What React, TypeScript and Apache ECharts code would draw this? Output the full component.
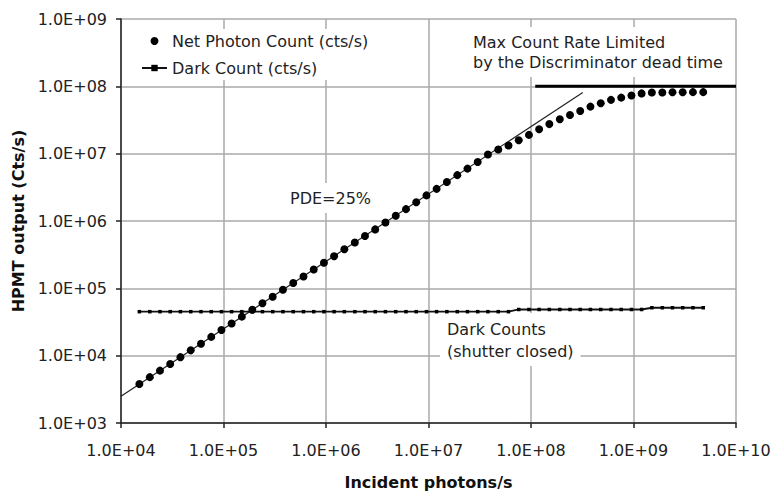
import React, { useEffect, useRef } from "react";
import * as echarts from "echarts";

// Incident photons/s (x values of measured points)
const incident = [
  1.51e4, 1.91e4, 2.40e4, 3.02e4, 3.80e4, 4.79e4, 6.03e4, 7.59e4, 9.55e4, 1.20e5,
  1.51e5, 1.91e5, 2.40e5, 3.02e5, 3.80e5, 4.79e5, 6.03e5, 7.59e5, 9.55e5, 1.20e6,
  1.51e6, 1.91e6, 2.40e6, 3.02e6, 3.80e6, 4.79e6, 6.03e6, 7.59e6, 9.55e6, 1.20e7,
  1.51e7, 1.91e7, 2.40e7, 3.02e7, 3.80e7, 4.79e7, 6.03e7, 7.59e7, 9.55e7, 1.20e8,
  1.51e8, 1.91e8, 2.40e8, 3.02e8, 3.80e8, 4.79e8, 6.03e8, 7.59e8, 9.55e8, 1.20e9,
  1.51e9, 1.91e9, 2.40e9, 3.02e9, 3.80e9, 4.79e9,
];

// Net Photon Count (cts/s)
const netCount = [
  3.8e3, 4.8e3, 6.0e3, 7.5e3, 9.5e3, 1.2e4, 1.5e4, 1.9e4, 2.4e4, 3.0e4,
  3.8e4, 4.8e4, 6.0e4, 7.5e4, 9.5e4, 1.2e5, 1.5e5, 1.9e5, 2.4e5, 3.0e5,
  3.8e5, 4.8e5, 6.0e5, 7.5e5, 9.5e5, 1.2e6, 1.5e6, 1.9e6, 2.4e6, 3.0e6,
  3.8e6, 4.8e6, 6.0e6, 7.5e6, 9.7e6, 1.15e7, 1.32e7, 1.58e7, 1.9e7, 2.3e7,
  2.75e7, 3.25e7, 3.75e7, 4.3e7, 5.0e7, 5.6e7, 6.3e7, 6.8e7, 7.3e7, 7.85e7,
  8.1e7, 8.1e7, 8.15e7, 8.15e7, 8.2e7, 8.2e7,
];

// Dark Count (cts/s)
const darkCount = [
  4.5e4, 4.5e4, 4.5e4, 4.5e4, 4.5e4, 4.5e4, 4.5e4, 4.5e4, 4.5e4, 4.5e4,
  4.5e4, 4.5e4, 4.5e4, 4.5e4, 4.5e4, 4.5e4, 4.5e4, 4.5e4, 4.5e4, 4.5e4,
  4.5e4, 4.5e4, 4.5e4, 4.5e4, 4.5e4, 4.5e4, 4.5e4, 4.5e4, 4.5e4, 4.5e4,
  4.5e4, 4.5e4, 4.5e4, 4.5e4, 4.5e4, 4.5e4, 4.5e4, 4.85e4, 4.85e4, 4.85e4,
  4.85e4, 4.85e4, 4.85e4, 4.85e4, 4.85e4, 4.85e4, 4.85e4, 4.85e4, 4.85e4, 4.85e4,
  5.15e4, 5.15e4, 5.15e4, 5.15e4, 5.15e4, 5.15e4,
];

// PDE = 25% fit line
const fitX = [1e4, 3.2e8];
const fitY = [2.5e3, 8.1e7];

// Max count rate limit
const limitX = [1.1e8, 1e10];
const limitY = [1e8, 1e8];

const FONT = "DejaVu Sans";
const TXT = "#222";

const fmt = (v: number) => {
  const s = v.toExponential(1).toUpperCase();
  const [m, e] = s.split("E");
  const sign = e[0];
  const digits = e.slice(1).padStart(2, "0");
  return `${m}E${sign}${digits}`;
};

export default function App() {
  const ref = useRef<HTMLDivElement>(null);
  useEffect(() => {
    if (!ref.current) return;
    const chart = echarts.init(ref.current, null, { renderer: "svg" });
    const pairs = (xs: number[], ys: number[]) => xs.map((x, i) => [x, ys[i]]);
    chart.setOption({
      animation: false,
      backgroundColor: "#fff",
      textStyle: { fontFamily: FONT },
      grid: {
        left: 121,
        right: 35,
        top: 19,
        bottom: 69,
        containLabel: false,
        outerBoundsMode: "none",
      },
      legend: {
        orient: "vertical",
        left: 133,
        top: 29,
        itemWidth: 25,
        itemHeight: 8,
        itemGap: 11,
        padding: [4, 8, 4, 8],
        backgroundColor: "#fff",
        selectedMode: false,
        textStyle: { fontFamily: FONT, fontSize: 16, color: TXT },
        data: [
          { name: "Net Photon Count (cts/s)", icon: "circle" },
          { name: "Dark Count (cts/s)" },
        ],
      },
      xAxis: {
        type: "log",
        logBase: 10,
        min: 1e4,
        max: 1e10,
        interval: 1,
        name: "Incident photons/s",
        nameLocation: "middle",
        nameGap: 51,
        nameTextStyle: { fontFamily: FONT, fontSize: 16, fontWeight: "bold", color: "#111" },
        axisLine: { lineStyle: { color: "#222", width: 1.5 } },
        axisTick: { show: true, inside: false, length: 5, lineStyle: { color: "#222", width: 1.5 } },
        axisLabel: { formatter: fmt, fontFamily: FONT, fontSize: 16, color: TXT, margin: 19 },
        splitLine: { show: true, lineStyle: { color: "#aaaaaa", width: 1.5 } },
        minorTick: { show: false },
      },
      yAxis: {
        type: "log",
        logBase: 10,
        min: 1e3,
        max: 1e9,
        interval: 1,
        name: "HPMT output (Cts/s)",
        nameLocation: "middle",
        nameGap: 92,
        nameRotate: 90,
        nameTextStyle: { fontFamily: FONT, fontSize: 16, fontWeight: "bold", color: "#111" },
        axisLine: { show: true, lineStyle: { color: "#222", width: 1.5 } },
        axisTick: { show: true, inside: false, length: 5, lineStyle: { color: "#222", width: 1.5 } },
        axisLabel: { formatter: fmt, fontFamily: FONT, fontSize: 16, color: TXT, margin: 14 },
        splitLine: { show: true, lineStyle: { color: "#aaaaaa", width: 1.5 } },
        minorTick: { show: false },
      },
      series: [
        {
          name: "PDE fit",
          type: "line",
          data: pairs(fitX, fitY),
          showSymbol: false,
          symbol: "none",
          lineStyle: { color: "#222", width: 1.2 },
          z: 3,
          silent: true,
        },
        {
          name: "Max count",
          type: "line",
          data: pairs(limitX, limitY),
          showSymbol: false,
          symbol: "none",
          lineStyle: { color: "#000", width: 3 },
          z: 3,
          silent: true,
        },
        {
          name: "Dark Count (cts/s)",
          type: "line",
          data: pairs(incident, darkCount),
          symbol: "rect",
          symbolSize: 3.5,
          showAllSymbol: true,
          itemStyle: { color: "#000", opacity: 1 },
          lineStyle: { color: "#111", width: 1.8 },
          z: 4,
        },
        {
          name: "Net Photon Count (cts/s)",
          type: "scatter",
          data: pairs(incident, netCount),
          symbol: "circle",
          symbolSize: 8,
          itemStyle: { color: "#000", opacity: 1 },
          z: 5,
        },
      ],
      graphic: [
        {
          type: "text",
          x: 465,
          y: 27,
          z: 1,
          style: {
            text: "Max Count Rate Limited\nby the Discriminator dead time",
            font: `16px "${FONT}"`,
            fill: TXT,
            lineHeight: 20,
            backgroundColor: "#fff",
            padding: [5, 6, 5, 8],
          },
        },
        {
          type: "text",
          x: 286,
          y: 183,
          z: 1,
          style: {
            text: "PDE=25%",
            font: `16px "${FONT}"`,
            fill: TXT,
            lineHeight: 20,
            backgroundColor: "#fff",
            padding: [5, 4, 5, 4],
          },
        },
        {
          type: "text",
          x: 440,
          y: 313,
          z: 1,
          style: {
            text: "Dark Counts\n(shutter closed)",
            font: `16px "${FONT}"`,
            fill: TXT,
            lineHeight: 22,
            backgroundColor: "#fff",
            padding: [5, 7, 4, 7],
          },
        },
      ],
    });
    return () => chart.dispose();
  }, []);
  return (
    <div
      ref={ref}
      style={{ position: "fixed", left: 0, top: 0, width: 771, height: 492, background: "#fff" }}
    />
  );
}
